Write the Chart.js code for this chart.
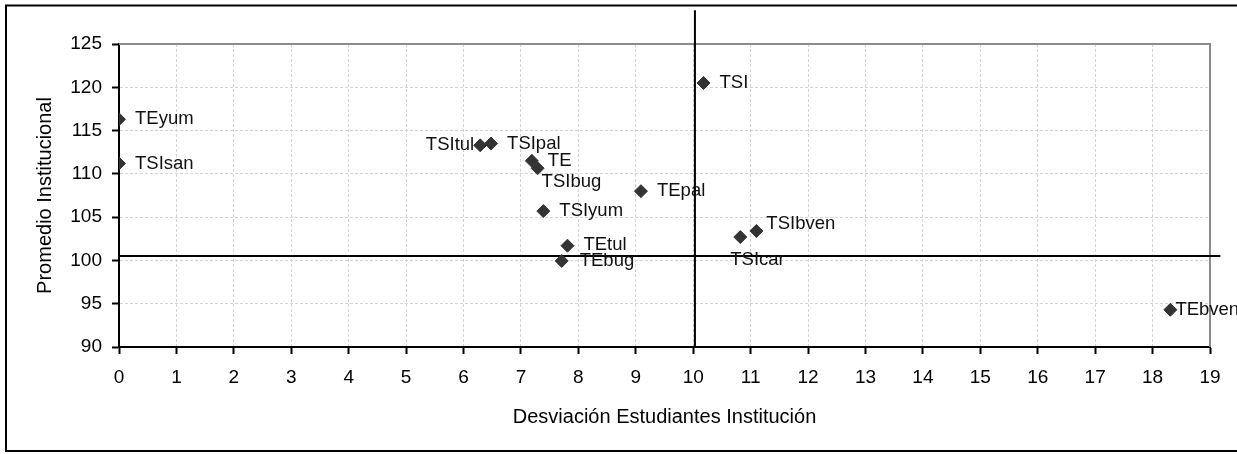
<!DOCTYPE html>
<html lang="es">
<head>
    <meta charset="UTF-8">
    <title>Promedio vs Desviación</title>
    <script src="https://cdn.jsdelivr.net/npm/chart.js"></script>
    <style>
        body{
            margin:0;
            background:#fff;
        }
        #wrap{
            position:relative;
            width:1237px;
            height:454px;
        }
    </style>
</head>
<body>
    <div id="wrap"><canvas id="myChart"></canvas></div>

    <script>
        // datos
        const nombres = ['TEyum', 'TSIsan', 'TSI', 'TSItul', 'TSIpal', 'TE', 'TSIbug', 'TEpal', 'TSIyum', 'TEtul', 'TEbug', 'TSIcar', 'TSIbven', 'TEbven']
        const desviacion = [0, 0, 10.18, 6.29, 6.48, 7.19, 7.29, 9.09, 7.39, 7.81, 7.71, 10.82, 11.10, 18.31]
        const promedio = [116.3, 111.2, 120.5, 113.3, 113.5, 111.5, 110.65, 108.0, 105.7, 101.7, 99.94, 102.7, 103.4, 94.3]

        // lineas de referencia (promedios)
        const mediaX = 10.03
        const mediaY = 100.5
        const lineaVertY = [90, 128.9]
        const lineaHorX = [0, 19.18]

        // ejes
        const ejeX = { min: 0, max: 19, paso: 1 }
        const ejeY = { min: 90, max: 125, paso: 5 }

        // donde va cada etiqueta respecto al punto (px)
        const posEtiqueta = {
            TSItul: { dx: -6, dy: 0, align: 'right' },
            TSIbug: { dx: 4, dy: 14, align: 'left' },
            TSIcar: { dx: -10, dy: 23, align: 'left' },
            TSIbven: { dx: 10, dy: -7, align: 'left' },
            TEbven: { dx: 5, dy: 0, align: 'left' },
            TEtul: { dx: 16, dy: -1, align: 'left' },
            TEbug: { dx: 18, dy: 0, align: 'left' }
        }

        const puntos = nombres.map((n, i) => ({ x: desviacion[i], y: promedio[i] }))

        const etiquetas = {
            id: 'etiquetas',
            afterDatasetsDraw(chart) {
                const ctx = chart.ctx
                const meta = chart.getDatasetMeta(0)
                ctx.save()
                ctx.font = '18.5px "Liberation Sans", Arial, sans-serif'
                ctx.fillStyle = '#111'
                ctx.textBaseline = 'middle'
                meta.data.forEach((el, i) => {
                    const p = posEtiqueta[nombres[i]] || { dx: 16, dy: 0, align: 'left' }
                    ctx.textAlign = p.align
                    ctx.fillText(nombres[i], el.x + p.dx, el.y + p.dy)
                })
                ctx.restore()
            }
        }

        const marco = {
            id: 'marco',
            beforeDraw(chart) {
                const ctx = chart.ctx
                ctx.save()
                ctx.strokeStyle = '#000'
                ctx.lineWidth = 2
                ctx.strokeRect(6, 5.5, 1300, 445.5)
                ctx.restore()
            },
            beforeDatasetsDraw(chart) {
                const { ctx, chartArea } = chart
                ctx.save()
                ctx.strokeStyle = '#8c8c8c'
                ctx.lineWidth = 2
                ctx.beginPath()
                ctx.moveTo(chartArea.left, chartArea.top)
                ctx.lineTo(chartArea.right, chartArea.top)
                ctx.lineTo(chartArea.right, chartArea.bottom)
                ctx.stroke()
                ctx.restore()
            }
        }

        const fuenteTicks = { family: '"Liberation Sans", Arial, sans-serif', size: 19 }
        const fuenteTitulo = { family: '"Liberation Sans", Arial, sans-serif', size: 20 }

        var ctx = document.getElementById('myChart')
        var myChart = new Chart(ctx, {
            type: 'scatter',
            data: {
                datasets: [{
                    label: 'Instituciones',
                    data: puntos,
                    pointStyle: 'rectRot',
                    pointRadius: 6.5,
                    pointBackgroundColor: '#333',
                    pointBorderColor: '#333',
                    pointBorderWidth: 1
                }, {
                    label: 'media x',
                    data: lineaVertY.map(v => ({ x: mediaX, y: v })),
                    showLine: true,
                    borderColor: '#000',
                    borderWidth: 2,
                    pointRadius: 0,
                    clip: false
                }, {
                    label: 'media y',
                    data: lineaHorX.map(v => ({ x: v, y: mediaY })),
                    showLine: true,
                    borderColor: '#000',
                    borderWidth: 2,
                    pointRadius: 0,
                    clip: false
                }]
            },
            options: {
                responsive: true,
                maintainAspectRatio: false,
                animation: false,
                devicePixelRatio: 1,
                layout: {
                    autoPadding: false,
                    padding: { top: 44, right: 27, left: 0, bottom: 0 }
                },
                plugins: {
                    legend: { display: false },
                    tooltip: { enabled: false }
                },
                scales: {
                    x: {
                        type: 'linear',
                        min: ejeX.min,
                        max: ejeX.max,
                        afterFit: s => { s.height = 107 },
                        ticks: {
                            stepSize: ejeX.paso,
                            color: '#000',
                            font: fuenteTicks,
                            padding: 12,
                            maxRotation: 0
                        },
                        grid: {
                            color: '#d4d4d4',
                            lineWidth: 1,
                            tickColor: '#000',
                            tickWidth: 2,
                            tickLength: 7
                        },
                        border: { color: '#000', width: 2, dash: [3, 2] },
                        title: {
                            display: true,
                            text: 'Desviación Estudiantes Institución',
                            color: '#000',
                            font: fuenteTitulo,
                            padding: { top: 0, bottom: 25 }
                        }
                    },
                    y: {
                        type: 'linear',
                        min: ejeY.min,
                        max: ejeY.max,
                        afterFit: s => { s.width = 119 },
                        ticks: {
                            stepSize: ejeY.paso,
                            color: '#000',
                            font: fuenteTicks,
                            padding: 10
                        },
                        grid: {
                            color: '#d4d4d4',
                            lineWidth: 1,
                            tickColor: '#000',
                            tickWidth: 2,
                            tickLength: 7
                        },
                        border: { color: '#000', width: 2, dash: [3, 2] },
                        title: {
                            display: true,
                            text: 'Promedio Institucional',
                            color: '#000',
                            font: fuenteTitulo,
                            padding: { top: 33, bottom: 0 }
                        }
                    }
                }
            },
            plugins: [marco, etiquetas]
        })
    </script>
</body>
</html>
